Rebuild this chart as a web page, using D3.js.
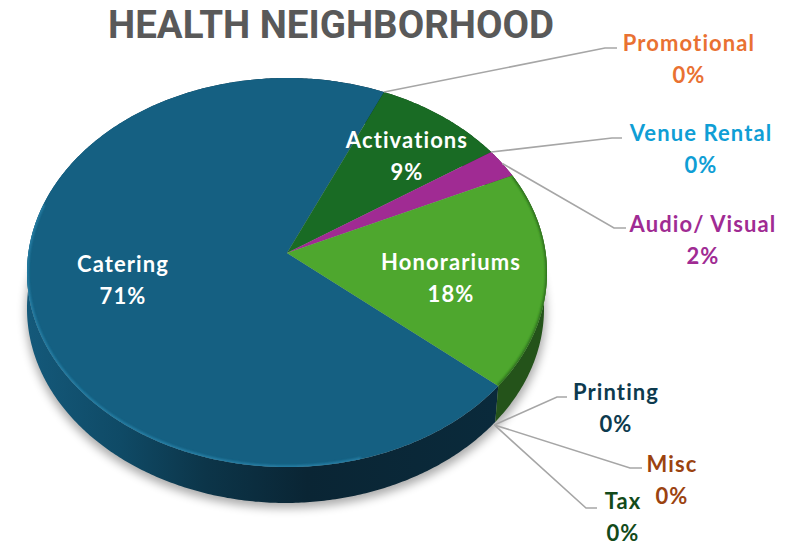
<!DOCTYPE html>
<html><head><meta charset="utf-8">
<script src="https://cdn.jsdelivr.net/npm/d3@7"></script>
<style>html,body{margin:0;background:#fff}svg{display:block}text{font-family:Lato;font-weight:700;text-anchor:middle}</style>
</head><body><svg id="c" width="787" height="545"></svg>
<script>
const categories=["Catering","Promotional","Activations","Venue Rental","Audio/ Visual","Honorariums","Printing","Misc","Tax"];
const values=[70.55,0,8.95,0,2.45,18.05,0,0,0];
const sliceColors=["#156082","#e97132","#196b24","#0f9ed5","#a02b93","#4ea72e","#0d3a4e","#9b4310","#124a1a"];
const labelColors=["#ffffff","#e97132","#ffffff","#0f9ed5","#a02b93","#ffffff","#0d3a4e","#9b4310","#124a1a"];
const labelCenters=[[123,264],[689,43],[407,140],[701,133],[703,224],[451,262],[616,392],[672,464],[623,501]];
const elbows=[null,[[605,48],[617,48]],null,[[612,138],[622,138]],[[614,228],[626,228]],null,[[557,397],[567,397]],[[630,468],[642,468]],[[586,508],[597,508]]];
const anchorDrop=[0,0,0,0,0,0,39,39,39];

const cx=287,cy=253,S=258.7,A=167.2,C=-0.1003,depth=36;
const project=a=>{const u=Math.sin(a),v=-Math.cos(a),w=1+C*v;return [cx+S*u/w,(cy+A*v)/w];};
const rad=d=>d*Math.PI/180;
const start=rad(130.2);
const arcs=d3.pie().sort(null).value(d=>d).startAngle(start).endAngle(start+2*Math.PI)(values);
const line=d3.line();
const sample=(a0,a1)=>{const n=Math.max(2,Math.ceil(Math.abs(a1-a0)/0.01));return d3.range(n+1).map(i=>project(a0+(a1-a0)*i/n));};
const svg=d3.select("#c");
const defs=svg.append("defs");
defs.append("filter").attr("id","blur").attr("x","-20%").attr("y","-20%").attr("width","140%").attr("height","140%").append("feGaussianBlur").attr("stdDeviation",5);
defs.append("filter").attr("id","soft").attr("x","-10%").attr("y","-10%").attr("width","120%").attr("height","120%").append("feGaussianBlur").attr("stdDeviation",1.3);
const wg=defs.append("linearGradient").attr("id","wall").attr("gradientUnits","userSpaceOnUse").attr("x1",27).attr("x2",494).attr("y1",0).attr("y2",0);
[[0,"#14597a"],[.2,"#0f4a66"],[.38,"#0c3549"],[.6,"#0a2534"],[1,"#0a2a3b"]].forEach(s=>wg.append("stop").attr("offset",s[0]).attr("stop-color",s[1]));
const wallColors=new Map([[0,"url(#wall)"],[2,"#123f17"],[4,"#5c1a55"],[5,"#24531a"]]);

const outline=sample(0,2*Math.PI);
svg.append("path").attr("d",line(outline.map(p=>[p[0]-1,p[1]+depth+5]))+"Z").attr("fill","#000").attr("opacity",.33).attr("filter","url(#blur)");
arcs.forEach((d,i)=>{ if(d.value===0)return;
  const e=sample(d.startAngle,d.endAngle);
  const pts=e.concat(e.slice().reverse().map(p=>[p[0]-(p[0]>cx?3:0),p[1]+depth]));
  svg.append("path").attr("d",line(pts)+"Z").attr("fill",wallColors.get(i));
});
arcs.forEach((d,i)=>{ if(d.value===0)return;
  const e=sample(d.startAngle,d.endAngle);
  svg.append("path").attr("d",line([[cx,cy],...e])+"Z").attr("fill",sliceColors[i]);
});
const clip=defs.append("clipPath").attr("id","face");
clip.append("path").attr("d",line(outline)+"Z");
const rim=svg.append("g").attr("clip-path","url(#face)");
rim.append("path").attr("d",line(sample(rad(165),rad(285)))).attr("fill","none").attr("stroke","#2a86ad").attr("stroke-width",3.5).attr("opacity",.8).attr("filter","url(#soft)");
rim.append("path").attr("d",line(sample(arcs[5].startAngle,arcs[5].endAngle))).attr("fill","none").attr("stroke","#2c6a1c").attr("stroke-width",3).attr("filter","url(#soft)");
arcs.forEach((d,i)=>{ if(!elbows[i])return;
  const a=i===4?(d.startAngle+d.endAngle)/2:d.startAngle;
  const p=project(a);
  const first=[p[0]-(anchorDrop[i]?4:0),p[1]+anchorDrop[i]];
  svg.append("path").attr("d",line([first,...elbows[i]])).attr("fill","none").attr("stroke","#a6a6a6").attr("stroke-width",1.6);
});
svg.append("text").attr("x",331).attr("y",38).attr("font-size",39).style("font-family","Roboto").attr("textLength",446).attr("lengthAdjust","spacingAndGlyphs").attr("fill","#595959").text("HEALTH NEIGHBORHOOD");
categories.forEach((c,i)=>{
  const [x,y]=labelCenters[i];
  const g=svg.append("g").attr("fill",labelColors[i]).attr("font-size",22).style("letter-spacing","1.1px");
  g.append("text").attr("x",x).attr("y",y+7.5).text(c);
  g.append("text").attr("x",x).attr("y",y+39.5).text(Math.round(values[i])+"%");
});
</script></body></html>
